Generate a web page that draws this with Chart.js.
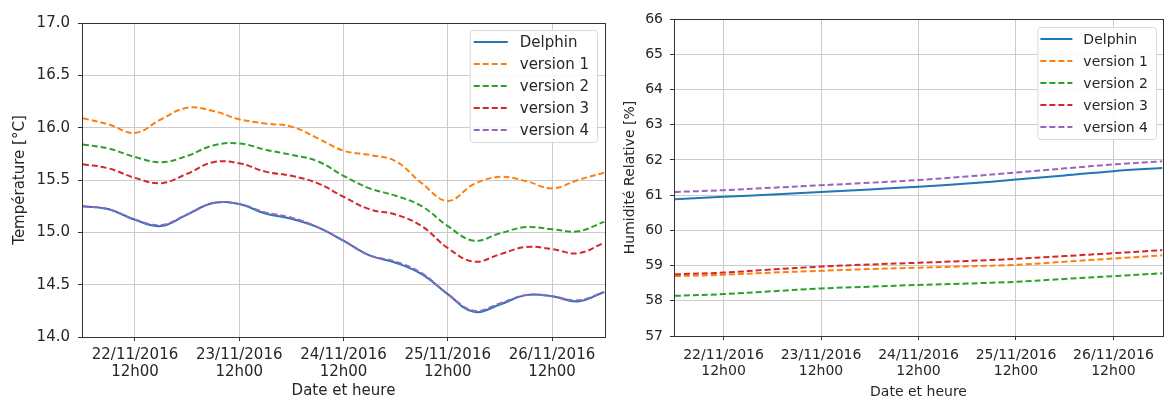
<!DOCTYPE html>
<html>
<head>
<meta charset="utf-8">
<script src="https://cdn.jsdelivr.net/npm/chart.js@4"></script>
<style>
  html, body { margin: 0; padding: 0; background: #fff; }
  body { width: 1165px; height: 396px; position: relative; overflow: hidden; }
  .box { position: absolute; top: 0; height: 396px; }
  #left-box { left: 0; width: 612px; }
  #right-box { left: 612px; width: 553px; }
</style>
</head>
<body>
<div class="box" id="left-box"><canvas id="temp-chart"></canvas></div>
<div class="box" id="right-box"><canvas id="hum-chart"></canvas></div>
<script>
// hours since 22/11/2016 00h00
const tempHours = [0, 6, 12, 18, 24, 30, 36, 42, 48, 54, 60, 66, 72, 78, 84, 90, 96, 102, 108, 114, 120];
const tempDelphin = [15.25, 15.22, 15.12, 15.06, 15.17, 15.28, 15.27, 15.18, 15.13, 15.05, 14.92, 14.78, 14.71, 14.60, 14.41, 14.24, 14.31, 14.40, 14.39, 14.34, 14.43];
const tempV1 = [16.09, 16.03, 15.95, 16.08, 16.19, 16.16, 16.08, 16.04, 16.01, 15.90, 15.78, 15.74, 15.68, 15.47, 15.30, 15.46, 15.53, 15.49, 15.42, 15.50, 15.57];
const tempV2 = [15.84, 15.80, 15.72, 15.67, 15.73, 15.83, 15.85, 15.79, 15.74, 15.68, 15.54, 15.42, 15.35, 15.25, 15.06, 14.92, 14.99, 15.05, 15.03, 15.01, 15.10];
const tempV3 = [15.65, 15.61, 15.52, 15.47, 15.56, 15.67, 15.66, 15.58, 15.54, 15.47, 15.34, 15.22, 15.17, 15.06, 14.85, 14.72, 14.79, 14.86, 14.84, 14.80, 14.90];
const tempV4 = [15.25, 15.22, 15.12, 15.07, 15.17, 15.28, 15.27, 15.19, 15.14, 15.05, 14.92, 14.78, 14.72, 14.61, 14.41, 14.25, 14.32, 14.40, 14.39, 14.35, 14.43];

const humHours = [0, 12, 24, 36, 48, 60, 72, 84, 96, 108, 120];
const humDelphin = [60.88, 60.95, 61.02, 61.09, 61.16, 61.24, 61.33, 61.44, 61.56, 61.68, 61.77];
const humV1 = [58.70, 58.74, 58.80, 58.85, 58.90, 58.94, 58.98, 59.02, 59.11, 59.20, 59.29];
const humV2 = [58.14, 58.19, 58.27, 58.35, 58.40, 58.45, 58.49, 58.54, 58.62, 58.70, 58.78];
const humV3 = [58.75, 58.80, 58.89, 58.97, 59.03, 59.08, 59.13, 59.19, 59.27, 59.35, 59.44];
const humV4 = [61.09, 61.14, 61.21, 61.28, 61.35, 61.43, 61.53, 61.64, 61.76, 61.87, 61.96];

const tickHours = [12, 36, 60, 84, 108];
const tickDates = ['22/11/2016', '23/11/2016', '24/11/2016', '25/11/2016', '26/11/2016'];
const tickTime = '12h00';

const seriesNames = ['Delphin', 'version 1', 'version 2', 'version 3', 'version 4'];
const seriesColors = ['#1f77b4', '#ff7f0e', '#2ca02c', '#d62728', '#9467bd'];

const textColor = '#262626';
const FONT = 'DejaVu Sans';

function toPoints(xs, ys) {
    return xs.map((x, i) => ({ x: x, y: ys[i] }));
}

function makeDatasets(xs, lists) {
    return lists.map((ys, i) => ({
        label: seriesNames[i],
        data: toPoints(xs, ys),
        borderColor: seriesColors[i],
        backgroundColor: seriesColors[i],
        borderWidth: 2,
        borderDash: i === 0 ? [] : [6, 3],
        pointRadius: 0,
        tension: 0.4,
        fill: false,
        order: 5 - i
    }));
}

// full box round the plot, like matplotlib spines
const framePlugin = {
    id: 'frame',
    afterDatasetsDraw(chart) {
        const a = chart.chartArea;
        const ctx = chart.ctx;
        ctx.save();
        ctx.strokeStyle = '#333';
        ctx.lineWidth = 1;
        ctx.strokeRect(Math.round(a.left) + 0.5, Math.round(a.top) + 0.5,
            Math.round(a.right - a.left), Math.round(a.bottom - a.top));
        ctx.restore();
    }
};

// legend drawn inside the plot at upper right
const innerLegend = {
    id: 'innerLegend',
    afterDraw(chart, args, opts) {
        const ctx = chart.ctx;
        const a = chart.chartArea;
        const sets = chart.data.datasets;
        ctx.save();
        ctx.font = opts.size + 'px "' + FONT + '"';
        let maxW = 0;
        sets.forEach(d => { maxW = Math.max(maxW, ctx.measureText(d.label).width); });
        const w = opts.textOffset + maxW + 8;
        const h = sets.length * opts.row + 2;
        const x0 = a.right - opts.right - w;
        const y0 = a.top + opts.top;
        ctx.beginPath();
        ctx.roundRect(x0 + 0.5, y0 + 0.5, w, h, 3);
        ctx.fillStyle = 'rgba(255,255,255,0.85)';
        ctx.fill();
        ctx.strokeStyle = '#d9d9d9';
        ctx.lineWidth = 1;
        ctx.stroke();
        sets.forEach((d, i) => {
            const y = y0 + 1 + opts.row / 2 + i * opts.row;
            ctx.beginPath();
            ctx.setLineDash(d.borderDash);
            ctx.strokeStyle = d.borderColor;
            ctx.lineWidth = 2;
            ctx.moveTo(x0 + opts.lineStart, y);
            ctx.lineTo(x0 + opts.lineStart + opts.lineLen, y);
            ctx.stroke();
            ctx.setLineDash([]);
            ctx.fillStyle = textColor;
            ctx.textBaseline = 'middle';
            ctx.textAlign = 'left';
            ctx.fillText(d.label, x0 + opts.textOffset, y + 1);
        });
        ctx.restore();
    }
};

function makeChart(canvasId, cfg) {
    const font = { family: FONT, size: cfg.fontSize };
    return new Chart(document.getElementById(canvasId), {
        type: 'line',
        data: { datasets: makeDatasets(cfg.xs, cfg.lists) },
        options: {
            responsive: true,
            maintainAspectRatio: false,
            animation: false,
            layout: { padding: cfg.padding },
            plugins: {
                legend: { display: false },
                tooltip: { enabled: false },
                innerLegend: cfg.legend
            },
            scales: {
                x: {
                    type: 'linear',
                    min: -0.2,
                    max: 120.2,
                    afterBuildTicks: s => { s.ticks = tickHours.map(v => ({ value: v })); },
                    afterFit: s => { s.height = cfg.xHeight; },
                    ticks: {
                        autoSkip: false,
                        maxRotation: 0,
                        color: textColor,
                        padding: cfg.xTickPad,
                        font: { family: FONT, size: cfg.fontSize, lineHeight: 1.1 },
                        callback: (v, i) => [tickDates[i], tickTime]
                    },
                    grid: { color: '#cccccc', lineWidth: 1, tickColor: '#333', tickLength: 4 },
                    border: { display: false },
                    title: {
                        display: true,
                        text: 'Date et heure',
                        color: textColor,
                        font: { family: FONT, size: cfg.fontSize, lineHeight: 1 },
                        padding: { top: 0, bottom: -3 }
                    }
                },
                y: {
                    min: cfg.yMin,
                    max: cfg.yMax,
                    afterFit: s => { s.width = cfg.yWidth; },
                    ticks: {
                        stepSize: cfg.yStep,
                        color: textColor,
                        padding: cfg.yTickPad,
                        font: font,
                        callback: v => cfg.yDecimals ? v.toFixed(1) : v.toFixed(0)
                    },
                    grid: { color: '#cccccc', lineWidth: 1, tickColor: '#333', tickLength: 4 },
                    border: { display: false },
                    title: {
                        display: true,
                        text: cfg.yTitle,
                        color: textColor,
                        font: { family: FONT, size: cfg.fontSize, lineHeight: 1.2 },
                        padding: cfg.yTitlePad
                    }
                }
            }
        },
        plugins: [framePlugin, innerLegend]
    });
}

makeChart('temp-chart', {
    xs: tempHours,
    lists: [tempDelphin, tempV1, tempV2, tempV3, tempV4],
    fontSize: 15,
    padding: { left: 0, right: 7, top: 23, bottom: 0 },
    xHeight: 59,
    xTickPad: 6,
    yWidth: 82,
    yTickPad: 8,
    yMin: 14, yMax: 17, yStep: 0.5, yDecimals: true,
    yTitle: 'Température [°C]',
    yTitlePad: { top: 11, bottom: 4 },
    legend: { size: 15, row: 22, right: 8, top: 7, lineStart: 4, lineLen: 34, textOffset: 50 }
});

makeChart('hum-chart', {
    xs: humHours,
    lists: [humDelphin, humV1, humV2, humV3, humV4],
    fontSize: 14,
    padding: { left: 0, right: 2, top: 19, bottom: 0 },
    xHeight: 60,
    xTickPad: 8,
    yWidth: 62,
    yTickPad: 7,
    yMin: 57, yMax: 66, yStep: 1, yDecimals: false,
    yTitle: 'Humidité Relative [%]',
    yTitlePad: { top: 10, bottom: 4 },
    legend: { size: 14, row: 22, right: 7, top: 8, lineStart: 3, lineLen: 32, textOffset: 46 }
});
</script>
</body>
</html>
